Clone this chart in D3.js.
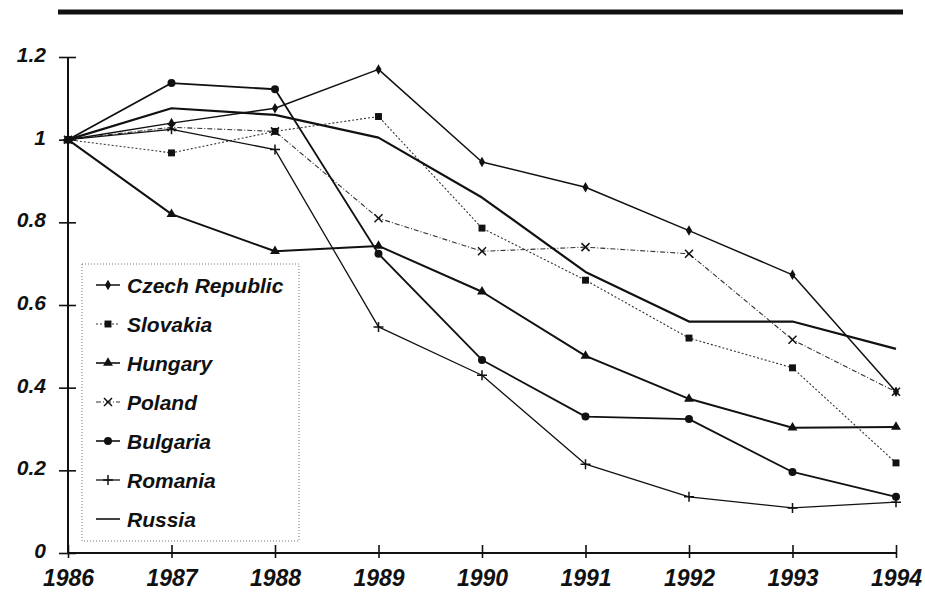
<!DOCTYPE html>
<html>
<head>
<meta charset="utf-8">
<script src="https://cdn.jsdelivr.net/npm/d3@7"></script>
<style>
    body { margin: 0; background: #fff; }
    svg { display: block; }
</style>
</head>
<body>
<svg></svg>
<script>
const years = [1986, 1987, 1988, 1989, 1990, 1991, 1992, 1993, 1994];
const yTicks = [0, 0.2, 0.4, 0.6, 0.8, 1, 1.2];

const czech = [1, 1.04, 1.076, 1.17, 0.946, 0.885, 0.78, 0.673, 0.39];
const slovakia = [1, 0.968, 1.02, 1.056, 0.786, 0.66, 0.52, 0.448, 0.218];
const hungary = [1, 0.82, 0.73, 0.743, 0.632, 0.477, 0.373, 0.303, 0.305];
const poland = [1, 1.03, 1.02, 0.81, 0.73, 0.74, 0.724, 0.516, 0.39];
const bulgaria = [1, 1.137, 1.122, 0.724, 0.467, 0.33, 0.324, 0.196, 0.136];
const romania = [1, 1.025, 0.976, 0.547, 0.43, 0.215, 0.136, 0.109, 0.123];
const russia = [1, 1.076, 1.06, 1.005, 0.86, 0.68, 0.56, 0.56, 0.494];

const seriesNames = ['Czech Republic', 'Slovakia', 'Hungary', 'Poland', 'Bulgaria', 'Romania', 'Russia'];
const seriesValues = [czech, slovakia, hungary, poland, bulgaria, romania, russia];

// look of each series: marker kind, line width, dash
const styles = {
    'Czech Republic': {marker: 'diamond', width: 1.5, dash: null, color: '#111'},
    'Slovakia': {marker: 'square', width: 1.1, dash: '2,2', color: '#333'},
    'Hungary': {marker: 'triangle', width: 2, dash: null, color: '#111'},
    'Poland': {marker: 'x', width: 1.1, dash: '5,2,1,2', color: '#333'},
    'Bulgaria': {marker: 'circle', width: 1.8, dash: null, color: '#111'},
    'Romania': {marker: 'plus', width: 1.3, dash: null, color: '#111'},
    'Russia': {marker: null, width: 2.2, dash: null, color: '#111'}
};

const font = "'Liberation Sans', Arial, sans-serif";

const svg = d3.select('svg')
    .attr('width', 925)
    .attr('height', 592);

const x = d3.scaleLinear().domain([1986, 1994]).range([68, 896]);
const y = d3.scaleLinear().domain([0, 1.2]).range([553, 57]);

// thick rule at the top
svg.append('line')
    .attr('x1', 58).attr('x2', 903)
    .attr('y1', 12).attr('y2', 12)
    .attr('stroke', '#111')
    .attr('stroke-width', 5);

// axes
const yAxisGroup = svg.append('g')
    .attr('transform', `translate(${x(1986)}, 0)`)
    .call(d3.axisLeft(y).tickValues(yTicks).tickSize(9).tickPadding(0)
        .tickFormat(d => d3.format('~g')(d)));
yAxisGroup.select('.domain').attr('d', `M0,${y(1.2)}V${y(0)}`).attr('stroke-width', 2);
yAxisGroup.selectAll('.tick line').attr('x1', 8).attr('stroke-width', 1.6);
yAxisGroup.selectAll('.tick text')
    .attr('x', -22)
    .attr('dy', '0.22em')
    .attr('font-family', font)
    .attr('font-weight', 'bold')
    .attr('font-style', 'italic')
    .attr('font-size', 21)
    .attr('fill', '#111');

const xAxisGroup = svg.append('g')
    .attr('transform', `translate(0, ${y(0)})`)
    .call(d3.axisBottom(x).tickValues(years).tickSize(5).tickFormat(d3.format('d')));
xAxisGroup.select('.domain').attr('d', `M${x(1986)},0H${x(1994)}`).attr('stroke-width', 2);
xAxisGroup.selectAll('.tick line').attr('y1', -8).attr('stroke-width', 1.6);
xAxisGroup.selectAll('.tick text')
    .attr('y', 33)
    .attr('dy', 0)
    .attr('font-family', font)
    .attr('font-weight', 'bold')
    .attr('font-style', 'italic')
    .attr('font-size', 23)
    .attr('fill', '#111');
svg.selectAll('.domain, .tick line').attr('stroke', '#111');

function markerPath(kind, cx, cy) {
    if (kind === 'x') {
        const s = 4;
        return `M${cx - s},${cy - s}L${cx + s},${cy + s}M${cx - s},${cy + s}L${cx + s},${cy - s}`;
    }
    if (kind === 'plus') {
        const s = 5;
        return `M${cx - s},${cy}H${cx + s}M${cx},${cy - s}V${cy + s}`;
    }
    let type, size;
    if (kind === 'diamond') { type = d3.symbolDiamond; size = 32; }
    if (kind === 'square') { type = d3.symbolSquare; size = 48; }
    if (kind === 'triangle') { type = d3.symbolTriangle; size = 42; }
    if (kind === 'circle') { type = d3.symbolCircle; size = 50; }
    return d3.symbol().type(type).size(size)().toString();
}

function drawMarker(g, kind, cx, cy, color) {
    if (!kind) return;
    if (kind === 'x' || kind === 'plus') {
        g.append('path')
            .attr('d', markerPath(kind, cx, cy))
            .attr('stroke', color)
            .attr('stroke-width', 1.5)
            .attr('fill', 'none');
    } else {
        g.append('path')
            .attr('d', markerPath(kind))
            .attr('transform', `translate(${cx}, ${cy})`)
            .attr('fill', color);
    }
}

const line = d3.line()
    .x((d, i) => x(years[i]))
    .y(d => y(d));

const lineGroup = svg.append('g').attr('id', 'lines');

seriesNames.forEach((name, k) => {
    const st = styles[name];
    const vals = seriesValues[k];
    lineGroup.append('path')
        .datum(vals)
        .attr('d', line)
        .attr('fill', 'none')
        .attr('stroke', st.color)
        .attr('stroke-width', st.width)
        .attr('stroke-dasharray', st.dash)
        .attr('stroke-linejoin', 'round');
    const mg = lineGroup.append('g');
    vals.forEach((v, i) => {
        drawMarker(mg, st.marker, x(years[i]), y(v), '#111');
    });
});

// legend
const legend = svg.append('g').attr('id', 'legend');
legend.append('rect')
    .attr('x', 82).attr('y', 264)
    .attr('width', 217).attr('height', 277)
    .attr('fill', '#fff')
    .attr('stroke', '#777')
    .attr('stroke-width', 1)
    .attr('stroke-dasharray', '1,2');

seriesNames.forEach((name, k) => {
    const st = styles[name];
    const ly = 285 + k * 39;
    legend.append('line')
        .attr('x1', 96).attr('x2', 120)
        .attr('y1', ly).attr('y2', ly)
        .attr('stroke', st.color)
        .attr('stroke-width', Math.min(st.width, 1.6))
        .attr('stroke-dasharray', st.dash);
    drawMarker(legend, st.marker, 108, ly, '#111');
    legend.append('text')
        .text(name)
        .attr('x', 127)
        .attr('y', ly)
        .attr('dy', '0.36em')
        .attr('font-family', font)
        .attr('font-weight', 'bold')
        .attr('font-style', 'italic')
        .attr('font-size', 21)
        .attr('fill', '#111');
});
</script>
</body>
</html>
